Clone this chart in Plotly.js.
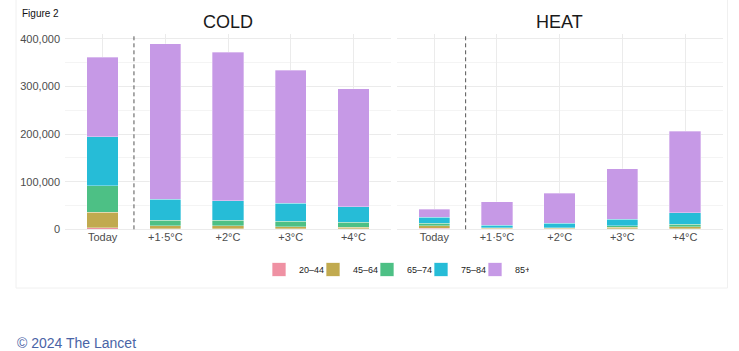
<!DOCTYPE html>
<html>
<head>
<meta charset="utf-8">
<script src="https://cdn.plot.ly/plotly-3.0.1.min.js"></script>
<style>
html,body{margin:0;padding:0;background:#fff;}
#chart{width:739px;height:351px;}
</style>
</head>
<body>
<div id="chart"></div>
<script>
const categories = ["Today", "+1·5°C", "+2°C", "+3°C", "+4°C"];
const ageGroups = ["20–44", "45–64", "65–74", "75–84", "85+"];
const colors = ["#EF91A3", "#C1AA4F", "#4DC085", "#26BCD7", "#C699E6"];

// COLD deaths by age group
const cold_20_44 = [3000, 1000, 1000, 1000, 1000];
const cold_45_64 = [33000, 6000, 6000, 4000, 3500];
const cold_65_74 = [55000, 12500, 12000, 12000, 10000];
const cold_75_84 = [103500, 44000, 41000, 37500, 32500];
const cold_85 = [167500, 326500, 312000, 279500, 248000];

// HEAT deaths by age group
const heat_20_44 = [2500, 500, 500, 1000, 1500];
const heat_45_64 = [4500, 1500, 1500, 3000, 4000];
const heat_65_74 = [5500, 1500, 1500, 3000, 5500];
const heat_75_84 = [12500, 5500, 9500, 14500, 24000];
const heat_85 = [17500, 49000, 63000, 105500, 171000];

const coldSeries = [cold_20_44, cold_45_64, cold_65_74, cold_75_84, cold_85];
const heatSeries = [heat_20_44, heat_45_64, heat_65_74, heat_75_84, heat_85];

const W = 739, H = 351;
const px = v => v / W;
const py = v => 1 - v / H;

const traces = [];
coldSeries.forEach((vals, i) => {
  traces.push({
    type: "bar", x: categories, y: vals, name: ageGroups[i],
    xaxis: "x", yaxis: "y", width: 0.5, legendgroup: ageGroups[i], showlegend: false,
    marker: {color: colors[i], line: {color: "rgba(255,255,255,0.55)", width: 0.6}},
    hoverinfo: "x+y+name"
  });
});
heatSeries.forEach((vals, i) => {
  traces.push({
    type: "bar", x: categories, y: vals, name: ageGroups[i],
    xaxis: "x2", yaxis: "y2", width: 0.5, legendgroup: ageGroups[i], showlegend: false,
    marker: {color: colors[i], line: {color: "rgba(255,255,255,0.55)", width: 0.6}},
    hoverinfo: "x+y+name"
  });
});
// legend keys (square swatches), one per age group
ageGroups.forEach((g, i) => {
  traces.push({
    type: "scatter", mode: "markers", x: [null], y: [null], name: g,
    xaxis: "x", yaxis: "y", legendgroup: g, showlegend: true,
    marker: {symbol: "square", size: 14, color: colors[i], line: {color: "rgba(255,255,255,0.7)", width: 1}},
    hoverinfo: "skip"
  });
});

const fontFam = "Liberation Sans, Arial, Helvetica, sans-serif";
const yDomain = [py(229.3), py(34.4)];
const gridMajor = "#ebebeb";
const gridMinor = "#f4f4f4";

const xBase = {
  type: "category", range: [-0.6, 4.6], showgrid: true, gridcolor: gridMajor, gridwidth: 1,
  showline: false, zeroline: false, ticks: "", fixedrange: true,
  tickfont: {family: fontFam, size: 11, color: "#4d4d4d"}
};
const yBase = {
  range: [0, 409500], showgrid: true, gridcolor: gridMajor, gridwidth: 1,
  zeroline: true, zerolinecolor: gridMajor, zerolinewidth: 1,
  showline: false, ticks: "", tickvals: [0, 100000, 200000, 300000, 400000],
  minor: {tickvals: [50000, 150000, 250000, 350000], showgrid: true, gridcolor: gridMinor, gridwidth: 1},
  domain: yDomain, fixedrange: true,
  tickfont: {family: fontFam, size: 11, color: "#4d4d4d"}
};

const layout = {
  width: W, height: H,
  margin: {l: 0, r: 0, t: 0, b: 0},
  paper_bgcolor: "rgba(0,0,0,0)", plot_bgcolor: "rgba(0,0,0,0)",
  barmode: "stack",
  showlegend: true,
  font: {family: fontFam},
  xaxis: Object.assign({}, xBase, {domain: [px(65), px(391)], anchor: "y", categoryarray: categories, categoryorder: "array"}),
  xaxis2: Object.assign({}, xBase, {domain: [px(396.7), px(722.6)], anchor: "y2", categoryarray: categories, categoryorder: "array"}),
  yaxis: Object.assign({}, yBase, {anchor: "x", tickformat: ",d", ticklabelstandoff: 4}),
  yaxis2: Object.assign({}, yBase, {anchor: "x2", showticklabels: false, matches: "y"}),
  legend: {
    orientation: "h", x: px(259), xanchor: "left", y: py(269.5), yanchor: "middle",
    traceorder: "normal", font: {family: fontFam, size: 9, color: "#222"},
    entrywidth: 9, itemwidth: 30, itemsizing: "trace", bgcolor: "rgba(0,0,0,0)"
  },
  shapes: [
    {type: "line", xref: "x", yref: "paper", x0: 0.5, x1: 0.5, y0: yDomain[0], y1: yDomain[1],
     line: {color: "#555", width: 1, dash: "4px,3px"}},
    {type: "line", xref: "x2", yref: "paper", x0: 0.5, x1: 0.5, y0: yDomain[0], y1: yDomain[1],
     line: {color: "#555", width: 1, dash: "4px,3px"}},
    {type: "line", xref: "paper", yref: "paper", x0: px(16), x1: px(16), y0: py(288), y1: py(0),
     line: {color: "#f0f0f0", width: 1}, layer: "below"},
    {type: "line", xref: "paper", yref: "paper", x0: px(16), x1: px(727.5), y0: py(288), y1: py(288),
     line: {color: "#f0f0f0", width: 1}, layer: "below"},
    {type: "line", xref: "paper", yref: "paper", x0: px(727.5), x1: px(727.5), y0: py(288), y1: py(0),
     line: {color: "#f0f0f0", width: 1}, layer: "below"}
  ],
  annotations: [
    {text: "Figure 2", xref: "paper", yref: "paper", x: px(20), y: py(13.5), xanchor: "left", yanchor: "middle",
     showarrow: false, font: {family: fontFam, size: 10, color: "#111"}},
    {text: "COLD", xref: "paper", yref: "paper", x: px(228), y: py(22.5), xanchor: "center", yanchor: "middle",
     showarrow: false, font: {family: fontFam, size: 18, color: "#1a1a1a"}},
    {text: "HEAT", xref: "paper", yref: "paper", x: px(559.7), y: py(22.5), xanchor: "center", yanchor: "middle",
     showarrow: false, font: {family: fontFam, size: 18, color: "#1a1a1a"}},
    {text: "© 2024 The Lancet", xref: "paper", yref: "paper", x: px(15), y: py(343), xanchor: "left", yanchor: "middle",
     showarrow: false, font: {family: fontFam, size: 14, color: "#4a64a6"}}
  ]
};

Plotly.newPlot("chart", traces, layout, {displayModeBar: false, staticPlot: true});
</script>
</body>
</html>
